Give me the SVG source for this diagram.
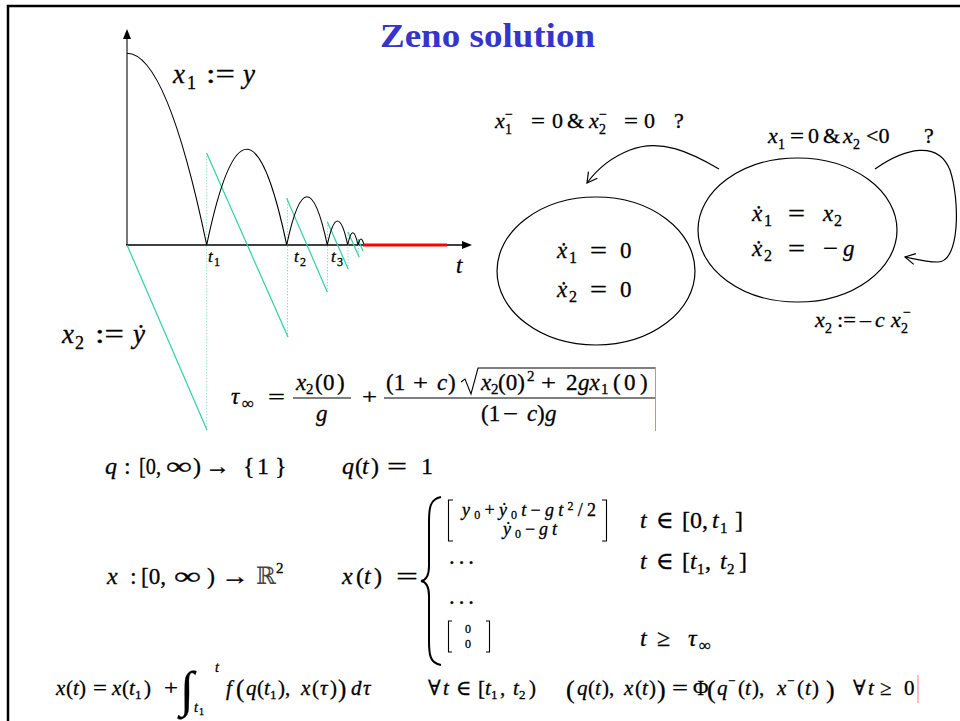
<svg xmlns="http://www.w3.org/2000/svg" width="960" height="721" viewBox="0 0 960 721">
<defs>
<style>
.t{font-family:"Liberation Serif","DejaVu Serif",serif;fill:#000;stroke:#000;stroke-width:0.3}
.it{font-style:italic}
.g{stroke:#2fd1a3;stroke-width:1.2;fill:none}
.dot{stroke:#95e2d3;stroke-width:1;stroke-dasharray:1.5 1.5;fill:none}
.ln{stroke:#000;stroke-width:1.1;fill:none}
.node{fill:none;stroke:#000;stroke-width:1.2}
.conn{fill:none;stroke:#000;stroke-width:1.2}
</style>
<marker id="open" markerWidth="14" markerHeight="14" refX="11" refY="6" orient="auto" markerUnits="userSpaceOnUse">
<path d="M1,0.5 L11,6 L1,11.5" fill="none" stroke="#000" stroke-width="1.2"/>
</marker>
</defs>
<rect width="960" height="721" fill="#fff"/>
<!-- frame -->
<path d="M8,721 L8,6 L960,6" fill="none" stroke="#000" stroke-width="2.5"/>
<!-- title -->
<text class="t" x="380" y="47" font-size="34" font-weight="bold" style="fill:#3535cc;stroke:none" textLength="215" lengthAdjust="spacingAndGlyphs">Zeno solution</text>

<!-- plot -->
<g id="plot">
<line x1="127" y1="245" x2="127" y2="38" stroke="#777" stroke-width="2"/>
<path d="M127,29 L123,39 L131,39 Z" fill="#000"/>
<line x1="126" y1="245" x2="463" y2="245" stroke="#000" stroke-width="1.5"/>
<path d="M472,245 L462,241 L462,249 Z" fill="#000"/>
<line x1="206.7" y1="153" x2="206.7" y2="430" class="dot"/>
<line x1="287.5" y1="198" x2="287.5" y2="337" class="dot"/>
<line x1="327.5" y1="222" x2="327.5" y2="292" class="dot"/>
<line x1="348" y1="232" x2="348" y2="269" class="dot"/>
<line x1="358.5" y1="239" x2="358.5" y2="257" class="dot"/>
<line x1="127" y1="245" x2="207" y2="430" class="g"/>
<line x1="206.7" y1="153.3" x2="288" y2="337" class="g"/>
<line x1="286.7" y1="198.3" x2="327.3" y2="292" class="g"/>
<line x1="327.3" y1="221.7" x2="348.3" y2="269.3" class="g"/>
<line x1="348" y1="232" x2="359.3" y2="257.3" class="g"/>
<line x1="358" y1="239" x2="363" y2="251" class="g"/>
<path d="M127,53.3 Q166.8,53.3 206.7,245 Q246.7,53.6 286.7,245 Q307,148.4 327.3,245 Q337.5,197 347.7,245 Q352.8,220.4 358,245 Q361,233 364,245" class="ln" stroke-width="1.3"/>
<line x1="363" y1="245" x2="447" y2="245" stroke="#ff0000" stroke-width="3"/>
<text class="t it" x="208" y="262" font-size="17">t</text><text class="t" x="214" y="266" font-size="12">1</text>
<text class="t it" x="294" y="262" font-size="17">t</text><text class="t" x="300" y="266" font-size="12">2</text>
<text class="t it" x="331" y="262" font-size="17">t</text><text class="t" x="337" y="266" font-size="12">3</text>
<text class="t it" x="456" y="273" font-size="23">t</text>
<text class="t it" x="173" y="83" font-size="27">x</text>
<text class="t" x="187" y="89" font-size="18">1</text>
<text class="t" x="206" y="83" font-size="27" textLength="29" lengthAdjust="spacingAndGlyphs">:=</text>
<text class="t it" x="243" y="83" font-size="27">y</text>
<text class="t it" x="62" y="343" font-size="27">x</text>
<text class="t" x="75" y="349" font-size="18">2</text>
<text class="t" x="95" y="343" font-size="27" textLength="29" lengthAdjust="spacingAndGlyphs">:=</text>
<text class="t it" x="133" y="343" font-size="27">ẏ</text>
</g>

<!-- state machine -->
<g id="node-fall">
<ellipse cx="797.5" cy="230" rx="99.5" ry="72" class="node"/>
<text class="t it" x="752" y="221" font-size="23">ẋ</text>
<text class="t" x="764" y="226" font-size="16">1</text>
<text class="t" x="788" y="221" font-size="23" textLength="17" lengthAdjust="spacingAndGlyphs">=</text>
<text class="t it" x="823" y="221" font-size="23">x</text>
<text class="t" x="834" y="226" font-size="16">2</text>
<text class="t it" x="752" y="256" font-size="23">ẋ</text>
<text class="t" x="764" y="261" font-size="16">2</text>
<text class="t" x="788" y="256" font-size="23" textLength="17" lengthAdjust="spacingAndGlyphs">=</text>
<text class="t" x="823" y="256" font-size="23" textLength="15" lengthAdjust="spacingAndGlyphs">−</text>
<text class="t it" x="843" y="256" font-size="23">g</text>
</g>
<g id="node-rest">
<ellipse cx="596" cy="271" rx="99" ry="74" class="node"/>
<text class="t it" x="557" y="258" font-size="23">ẋ</text>
<text class="t" x="569" y="263" font-size="16">1</text>
<text class="t" x="590" y="258" font-size="23" textLength="17" lengthAdjust="spacingAndGlyphs">=</text>
<text class="t" x="620" y="258" font-size="23">0</text>
<text class="t it" x="557" y="297" font-size="23">ẋ</text>
<text class="t" x="569" y="302" font-size="16">2</text>
<text class="t" x="590" y="297" font-size="23" textLength="17" lengthAdjust="spacingAndGlyphs">=</text>
<text class="t" x="620" y="297" font-size="23">0</text>
</g>
<g id="connectors">
<path d="M719,169 C690,152 660,138 630,150 C612,157 598,168 587,183" class="conn" marker-end="url(#open)"/>
<path d="M875,169 C905,148 938,140 950,170 C960,200 960,262 938,262 C925,262 915,259 905,257" class="conn" marker-end="url(#open)"/>
<g id="label-stop">
<text class="t it" x="495" y="128" font-size="22">x</text>
<text class="t" x="505" y="134" font-size="14">1</text>
<text class="t" x="505" y="119" font-size="14">−</text>
<text class="t" x="531" y="128" font-size="22" textLength="14" lengthAdjust="spacingAndGlyphs">=</text>
<text class="t" x="552" y="128" font-size="22">0</text>
<text class="t" x="567" y="128" font-size="22">&amp;</text>
<text class="t it" x="589" y="128" font-size="22">x</text>
<text class="t" x="599" y="134" font-size="14">2</text>
<text class="t" x="599" y="119" font-size="14">−</text>
<text class="t" x="624" y="128" font-size="22" textLength="14" lengthAdjust="spacingAndGlyphs">=</text>
<text class="t" x="644" y="128" font-size="22">0</text>
<text class="t" x="674" y="128" font-size="22">?</text>
</g>
<g id="label-guard">
<text class="t it" x="768" y="143" font-size="22">x</text>
<text class="t" x="778" y="149" font-size="14">1</text>
<text class="t" x="790" y="143" font-size="22" textLength="14" lengthAdjust="spacingAndGlyphs">=</text>
<text class="t" x="808" y="143" font-size="22">0</text>
<text class="t" x="823" y="143" font-size="22">&amp;</text>
<text class="t it" x="843" y="143" font-size="22">x</text>
<text class="t" x="853" y="149" font-size="14">2</text>
<text class="t" x="866" y="143" font-size="22">&lt;0</text>
<text class="t" x="924" y="143" font-size="22">?</text>
</g>
<g id="label-reset">
<text class="t it" x="815" y="327" font-size="22">x</text>
<text class="t" x="825" y="333" font-size="14">2</text>
<text class="t" x="837" y="327" font-size="22" textLength="19" lengthAdjust="spacingAndGlyphs">:=</text>
<text class="t" x="860" y="327" font-size="22">–</text>
<text class="t it" x="875" y="327" font-size="22">c</text>
<text class="t it" x="891" y="327" font-size="22">x</text>
<text class="t" x="901" y="333" font-size="14">2</text>
<text class="t" x="903" y="317" font-size="14">−</text>
</g>
</g>

<!-- tau formula -->
<g id="tau">
<text class="t it" x="231" y="404" font-size="23">τ</text>
<text class="t" x="242" y="409" font-size="17">∞</text>
<text class="t" x="268" y="404" font-size="22" textLength="17" lengthAdjust="spacingAndGlyphs">=</text>
<text class="t it" x="296" y="390" font-size="23">x</text>
<text class="t" x="306" y="394" font-size="15">2</text>
<text class="t" x="315" y="390" font-size="23">(</text>
<text class="t" x="323" y="390" font-size="23">0</text>
<text class="t" x="337" y="390" font-size="23">)</text>
<line x1="293" y1="398" x2="351" y2="398" class="ln"/>
<text class="t it" x="316" y="421" font-size="23">g</text>
<text class="t" x="362" y="404" font-size="22" textLength="15" lengthAdjust="spacingAndGlyphs">+</text>
<text class="t" x="386" y="390" font-size="23">(1</text>
<text class="t" x="413" y="390" font-size="22" textLength="15" lengthAdjust="spacingAndGlyphs">+</text>
<text class="t it" x="437" y="390" font-size="23">c</text>
<text class="t" x="448" y="390" font-size="23">)</text>
<path d="M461,382 L465,379 L471,394 L478,368 L656,368" class="ln"/>
<text class="t it" x="481" y="390" font-size="23">x</text>
<text class="t" x="491" y="394" font-size="15">2</text>
<text class="t" x="498" y="390" font-size="23">(0)</text>
<text class="t" x="527" y="381" font-size="15">2</text>
<text class="t" x="541" y="390" font-size="22" textLength="15" lengthAdjust="spacingAndGlyphs">+</text>
<text class="t" x="566" y="390" font-size="23">2</text>
<text class="t it" x="578" y="390" font-size="23">gx</text>
<text class="t" x="601" y="394" font-size="15">1</text>
<text class="t" x="613" y="390" font-size="23">(</text>
<text class="t" x="624" y="390" font-size="23">0</text>
<text class="t" x="640" y="390" font-size="23">)</text>
<line x1="384" y1="398" x2="656" y2="398" class="ln"/>
<text class="t" x="481" y="421" font-size="23">(1</text>
<text class="t" x="503" y="421" font-size="22" textLength="15" lengthAdjust="spacingAndGlyphs">−</text>
<text class="t it" x="527" y="421" font-size="23">c</text>
<text class="t" x="537" y="421" font-size="23">)</text>
<text class="t it" x="545" y="421" font-size="23">g</text>
<line x1="655.5" y1="367" x2="655.5" y2="431" stroke="#f08080" stroke-width="1"/>
</g>

<!-- q line -->
<g id="q-line">
<text class="t it" x="105" y="474" font-size="24">q</text>
<text class="t" x="124" y="474" font-size="24">:</text>
<text class="t" x="139" y="474" font-size="24" textLength="22" lengthAdjust="spacingAndGlyphs">[0,</text>
<text class="t" x="166" y="474" font-size="24" textLength="26" lengthAdjust="spacingAndGlyphs">∞</text>
<text class="t" x="193" y="474" font-size="24">)</text>
<text class="t" x="205" y="474" font-size="24" textLength="25" lengthAdjust="spacingAndGlyphs">→</text>
<text class="t" x="243" y="474" font-size="24">{</text>
<text class="t" x="257" y="474" font-size="24">1</text>
<text class="t" x="275" y="474" font-size="24">}</text>
<text class="t it" x="342" y="474" font-size="24">q</text>
<text class="t" x="355" y="474" font-size="24">(</text>
<text class="t it" x="362" y="474" font-size="24">t</text>
<text class="t" x="371" y="474" font-size="24">)</text>
<text class="t" x="387" y="474" font-size="24" textLength="20" lengthAdjust="spacingAndGlyphs">=</text>
<text class="t" x="421" y="474" font-size="24">1</text>
</g>

<!-- x line -->
<g id="x-line">
<text class="t it" x="107" y="584" font-size="24">x</text>
<text class="t" x="130" y="584" font-size="24">:</text>
<text class="t" x="141" y="584" font-size="24" textLength="25" lengthAdjust="spacingAndGlyphs">[0,</text>
<text class="t" x="174" y="584" font-size="24" textLength="27" lengthAdjust="spacingAndGlyphs">∞</text>
<text class="t" x="207" y="584" font-size="24">)</text>
<text class="t" x="221" y="584" font-size="24" textLength="28" lengthAdjust="spacingAndGlyphs">→</text>
<text class="t" x="256" y="584" font-size="24" style="fill:#444;stroke:none">ℝ</text>
<text class="t" x="276" y="573" font-size="15">2</text>
<text class="t it" x="342" y="584" font-size="24">x</text>
<text class="t" x="356" y="584" font-size="24">(</text>
<text class="t it" x="364" y="584" font-size="24">t</text>
<text class="t" x="374" y="584" font-size="24">)</text>
<text class="t" x="396" y="584" font-size="24" textLength="22" lengthAdjust="spacingAndGlyphs">=</text>
<path d="M441,497 C430,499 429,508 429,522 L429,566 C429,575 427,580 421,581 C427,582 429,587 429,596 L429,641 C429,655 430,663 441,665" fill="none" stroke="#000" stroke-width="2"/>
<path d="M453,500 L448.5,500 L448.5,541 L453,541" class="ln"/>
<path d="M602,500 L606.5,500 L606.5,541 L602,541" class="ln"/>
<text class="t" x="462" y="516" font-size="18" textLength="134" lengthAdjust="spacing"><tspan font-style="italic">y</tspan><tspan font-size="12" dy="3">0</tspan><tspan dy="-3">+</tspan><tspan font-style="italic">ẏ</tspan><tspan font-size="12" dy="3">0</tspan><tspan font-style="italic" dy="-3">t</tspan><tspan>−</tspan><tspan font-style="italic">gt</tspan><tspan font-size="12" dy="-6">2</tspan><tspan dy="6">/2</tspan></text>
<text class="t" x="503" y="535" font-size="18" textLength="54" lengthAdjust="spacing"><tspan font-style="italic">ẏ</tspan><tspan font-size="12" dy="3">0</tspan><tspan dy="-3">−</tspan><tspan font-style="italic">gt</tspan></text>
<text class="t it" x="640" y="528" font-size="24">t</text>
<text class="t" x="656" y="528" font-size="24">∈</text>
<text class="t" x="682" y="528" font-size="24">[0,</text>
<text class="t it" x="712" y="528" font-size="24">t</text>
<text class="t" x="720" y="533" font-size="15">1</text>
<text class="t" x="735" y="528" font-size="24">]</text>
<text class="t" x="448" y="570" font-size="23" letter-spacing="2">···</text>
<text class="t it" x="640" y="569" font-size="24">t</text>
<text class="t" x="656" y="569" font-size="24">∈</text>
<text class="t" x="682" y="569" font-size="24">[</text>
<text class="t it" x="690" y="569" font-size="24">t</text>
<text class="t" x="697" y="574" font-size="15">1</text>
<text class="t" x="705" y="569" font-size="24">,</text>
<text class="t it" x="720" y="569" font-size="24">t</text>
<text class="t" x="727" y="574" font-size="15">2</text>
<text class="t" x="739" y="569" font-size="24">]</text>
<text class="t" x="448" y="610" font-size="23" letter-spacing="2">···</text>
<path d="M452,621 L448.5,621 L448.5,652 L452,652" class="ln"/>
<path d="M486,621 L489.5,621 L489.5,652 L486,652" class="ln"/>
<text class="t" x="465" y="633" font-size="12">0</text>
<text class="t" x="465" y="648" font-size="12">0</text>
<text class="t it" x="640" y="646" font-size="24">t</text>
<text class="t" x="657" y="646" font-size="24">≥</text>
<text class="t it" x="688" y="646" font-size="24">τ</text>
<text class="t" x="699" y="651" font-size="17">∞</text>
</g>

<!-- bottom line -->
<g id="bottom-line">
<text class="t it" x="56" y="695" font-size="21">x</text>
<text class="t" x="66" y="695" font-size="21">(</text>
<text class="t it" x="73" y="695" font-size="21">t</text>
<text class="t" x="79" y="695" font-size="21">)</text>
<text class="t" x="93" y="695" font-size="21" textLength="14" lengthAdjust="spacingAndGlyphs">=</text>
<text class="t it" x="112" y="695" font-size="21">x</text>
<text class="t" x="122" y="695" font-size="21">(</text>
<text class="t it" x="129" y="695" font-size="21">t</text>
<text class="t" x="135" y="699" font-size="13">1</text>
<text class="t" x="144" y="695" font-size="21">)</text>
<text class="t" x="164" y="695" font-size="21" textLength="14" lengthAdjust="spacingAndGlyphs">+</text>
<text class="t it" x="180" y="706" font-size="50">∫</text>
<text class="t it" x="215" y="672" font-size="14">t</text>
<text class="t it" x="194" y="712" font-size="14">t</text>
<text class="t" x="199" y="715" font-size="10">1</text>
<text class="t it" x="226" y="695" font-size="21">f</text>
<text class="t" x="236" y="697" font-size="25">(</text>
<text class="t it" x="246" y="695" font-size="21">q</text>
<text class="t" x="257" y="695" font-size="21">(</text>
<text class="t it" x="264" y="695" font-size="21">t</text>
<text class="t" x="270" y="699" font-size="13">1</text>
<text class="t" x="278" y="695" font-size="21">),</text>
<text class="t it" x="301" y="695" font-size="21">x</text>
<text class="t" x="312" y="695" font-size="21">(</text>
<text class="t it" x="320" y="695" font-size="21">τ</text>
<text class="t" x="330" y="695" font-size="21">)</text>
<text class="t" x="338" y="697" font-size="25">)</text>
<text class="t it" x="351" y="695" font-size="21">d</text>
<text class="t it" x="363" y="695" font-size="21">τ</text>
<text class="t" x="428" y="695" font-size="21">∀</text>
<text class="t it" x="443" y="695" font-size="21">t</text>
<text class="t" x="456" y="695" font-size="21">∈</text>
<text class="t" x="478" y="695" font-size="21">[</text>
<text class="t it" x="485" y="695" font-size="21">t</text>
<text class="t" x="491" y="699" font-size="13">1</text>
<text class="t" x="500" y="695" font-size="21">,</text>
<text class="t it" x="513" y="695" font-size="21">t</text>
<text class="t" x="519" y="699" font-size="13">2</text>
<text class="t" x="529" y="695" font-size="21">)</text>
<text class="t" x="566" y="698" font-size="26">(</text>
<text class="t it" x="577" y="695" font-size="21">q</text>
<text class="t" x="588" y="695" font-size="21">(</text>
<text class="t it" x="595" y="695" font-size="21">t</text>
<text class="t" x="602" y="695" font-size="21">),</text>
<text class="t it" x="624" y="695" font-size="21">x</text>
<text class="t" x="635" y="695" font-size="21">(</text>
<text class="t it" x="642" y="695" font-size="21">t</text>
<text class="t" x="649" y="695" font-size="21">)</text>
<text class="t" x="657" y="698" font-size="26">)</text>
<text class="t" x="672" y="695" font-size="21" textLength="16" lengthAdjust="spacingAndGlyphs">=</text>
<text class="t" x="693" y="695" font-size="21">Φ</text>
<text class="t" x="707" y="698" font-size="26">(</text>
<text class="t it" x="717" y="695" font-size="21">q</text>
<text class="t" x="728" y="685" font-size="13">−</text>
<text class="t" x="738" y="695" font-size="21">(</text>
<text class="t it" x="745" y="695" font-size="21">t</text>
<text class="t" x="752" y="695" font-size="21">),</text>
<text class="t it" x="777" y="695" font-size="21">x</text>
<text class="t" x="787" y="685" font-size="13">−</text>
<text class="t" x="797" y="695" font-size="21">(</text>
<text class="t it" x="805" y="695" font-size="21">t</text>
<text class="t" x="812" y="695" font-size="21">)</text>
<text class="t" x="826" y="698" font-size="26">)</text>
<text class="t" x="853" y="695" font-size="21">∀</text>
<text class="t it" x="868" y="695" font-size="21">t</text>
<text class="t" x="880" y="695" font-size="21">≥</text>
<text class="t" x="904" y="695" font-size="21">0</text>
<line x1="918" y1="675" x2="918" y2="703" stroke="#f08080" stroke-width="1"/>
</g>
</svg>
